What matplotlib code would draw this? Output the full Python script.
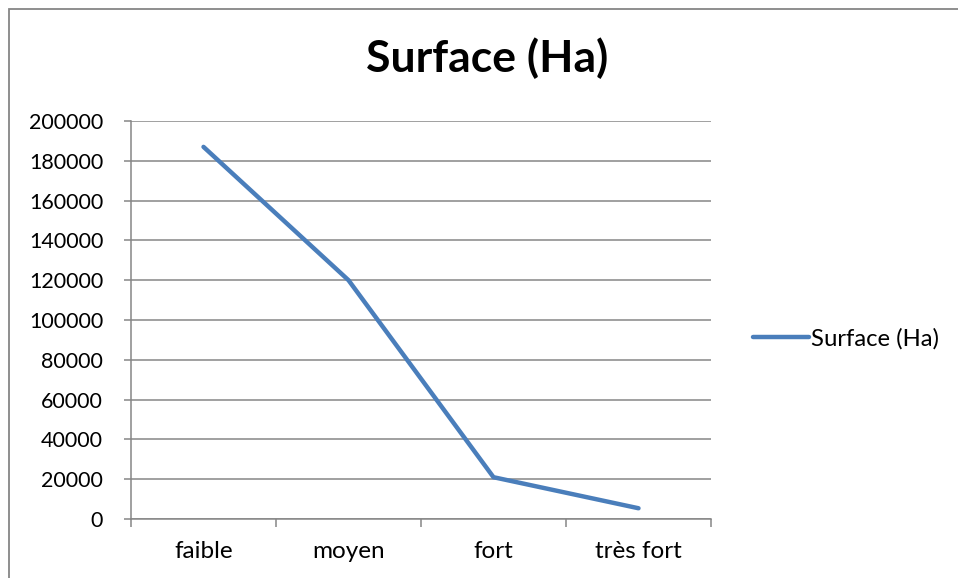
import matplotlib
matplotlib.use("Agg")
import matplotlib.pyplot as plt
from matplotlib.patches import Rectangle

# Surface per erosion class
categories = ["faible", "moyen", "fort", "très fort"]
surface = [187000, 120000, 21000, 5400]
y_ticks = [0, 20000, 40000, 60000, 80000, 100000, 120000, 140000, 160000, 180000, 200000]

plt.rcParams["font.family"] = ["Lato", "DejaVu Sans"]

W, H = 958, 578
fig = plt.figure(figsize=(W / 100, H / 100), dpi=100)
fig.patch.set_facecolor("white")

# chart frame (runs off the right and bottom edges)
fig.patches.append(Rectangle((9 / W, -0.1), 1.2, 1 - 9 / H + 0.1,
                             transform=fig.transFigure, fill=False,
                             edgecolor="#868686", linewidth=1.3))

ax = fig.add_axes([131 / W, 1 - 519 / H, 580 / W, 398 / H])
x = list(range(len(categories)))
line, = ax.plot(x, surface, color="#4A7EBB", linewidth=3.2,
                solid_capstyle="round", solid_joinstyle="round",
                label="Surface (Ha)")

ax.set_xlim(-0.5, len(categories) - 0.5)
ax.set_ylim(0, 200000)
ax.set_yticks(y_ticks)
ax.set_yticklabels([str(v) for v in y_ticks])
ax.set_xticks(x)
ax.set_xticklabels(categories)
ax.set_xticks([i - 0.5 for i in range(len(categories) + 1)], minor=True)

ax.grid(axis="y", color="#868686", linewidth=1.1)
ax.set_axisbelow(True)
for side in ["top", "right"]:
    ax.spines[side].set_visible(False)
for side in ["left", "bottom"]:
    ax.spines[side].set_color("#868686")
    ax.spines[side].set_linewidth(1.1)

ax.tick_params(axis="y", length=5, width=1.1, color="#868686",
               labelsize=15.5, pad=15, direction="out")
ax.tick_params(axis="x", which="major", length=0, labelsize=17.5, pad=16)
ax.tick_params(axis="x", which="minor", length=6, width=1.1, color="#868686",
               direction="out")

fig.text(487 / W, 1 - 58 / H, "Surface (Ha)", ha="center", va="center",
         fontsize=32, fontweight="bold")

fig.legend(handles=[line], loc="center left",
           bbox_to_anchor=(743 / W, 1 - 339 / H), frameon=False,
           fontsize=17.2, handlelength=2.35, handletextpad=0.1,
           borderaxespad=0)

fig.savefig("out.png", dpi=100)
